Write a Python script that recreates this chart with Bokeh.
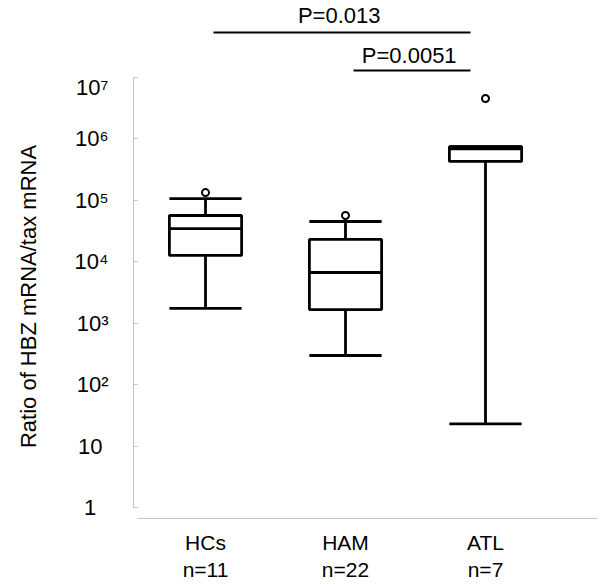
from bokeh.plotting import figure
from bokeh.layouts import column
from bokeh.models import Range1d, FixedTicker, CustomJSTickFormatter, ColumnDataSource
from bokeh.core.properties import value
from bokeh.embed import file_html
from bokeh.resources import INLINE

# ---- data ----
groups = ["HCs", "HAM", "ATL"]
n_counts = [11, 22, 7]
whisker_low = [1.74e3, 2.98e2, 2.3e1]
q1 = [1.27e4, 1.67e3, 4.3e5]
median = [3.48e4, 6.69e3, 6.9e5]
q3 = [5.67e4, 2.31e4, 7.5e5]
whisker_high = [1.07e5, 4.53e4, 7.5e5]
outlier_group = ["HCs", "HAM", "ATL"]
outlier_value = [1.34e5, 5.67e4, 4.55e6]
comparisons = [("HCs", "ATL", "P=0.013"), ("HAM", "ATL", "P=0.0051")]
y_ticks = [1, 10, 1e2, 1e3, 1e4, 1e5, 1e6, 1e7]

FONT = "Liberation Sans"
W = 600
LEFT = 133
RIGHT = 3
TOP_H = 74
BOT_H = 510
BOX_W = 0.516
AXIS_GRAY = "#c4c4c4"

pos = {g: i + 1 for i, g in enumerate(groups)}
xs = [pos[g] for g in groups]
x_range = Range1d(0.4857, 3.8)

# ---- main figure ----
p = figure(width=W, height=BOT_H, x_range=x_range,
           y_range=Range1d(10 ** -0.179, 10 ** 7.049), y_axis_type="log",
           output_backend="svg", toolbar_location=None,
           min_border_left=LEFT, min_border_right=RIGHT, min_border_top=0,
           min_border_bottom=66)
p.outline_line_color = None
p.grid.visible = False
p.background_fill_color = "white"

src = ColumnDataSource(dict(x=xs, lo=whisker_low, q1=q1, med=median, q3=q3, hi=whisker_high,
                            xl=[x - BOX_W / 2 for x in xs], xr=[x + BOX_W / 2 for x in xs]))
LW = 2.8
p.segment(x0="x", y0="q3", x1="x", y1="hi", source=src, line_color="black", line_width=LW)
p.segment(x0="x", y0="q1", x1="x", y1="lo", source=src, line_color="black", line_width=LW)
p.segment(x0="xl", y0="hi", x1="xr", y1="hi", source=src, line_color="black", line_width=LW)
p.segment(x0="xl", y0="lo", x1="xr", y1="lo", source=src, line_color="black", line_width=LW)
p.vbar(x="x", width=BOX_W, top="q3", bottom="q1", source=src,
       fill_color="white", line_color="black", line_width=LW)
p.segment(x0="xl", y0="med", x1="xr", y1="med", source=src, line_color="black", line_width=LW)
p.scatter(x=[pos[g] for g in outlier_group], y=outlier_value, marker="circle", size=7,
          fill_color="white", line_color="black", line_width=2)

# y axis
yax = p.yaxis[0]
yax.ticker = FixedTicker(ticks=y_ticks, minor_ticks=[])
yax.bounds = (1, 1e7)
yax.formatter = CustomJSTickFormatter(code="""
const e = Math.round(Math.log10(tick));
const sup = ['\u2070','\u00b9','\u00b2','\u00b3','\u2074','\u2075','\u2076','\u2077','\u2078','\u2079'];
if (e == 0) return '1\u00a0\u00a0';
if (e == 1) return '10\u00a0';
return '10' + sup[e];
""")
yax.axis_line_color = AXIS_GRAY
yax.major_tick_line_color = AXIS_GRAY
yax.major_tick_in = 4
yax.major_tick_out = 0
yax.minor_tick_line_color = None
yax.major_label_standoff = 25
yax.major_label_text_font = FONT
yax.major_label_text_font_size = "22px"
yax.major_label_text_color = "black"
yax.axis_label = "Ratio of HBZ mRNA/tax mRNA"
yax.axis_label_text_font = FONT
yax.axis_label_text_font_size = "22px"
yax.axis_label_text_font_style = "normal"
yax.axis_label_text_color = "black"
yax.axis_label_standoff = 31

# x axis
xax = p.xaxis[0]
xax.ticker = FixedTicker(ticks=xs, minor_ticks=[])
xax.bounds = (0.514, 3.8)
xax.formatter = CustomJSTickFormatter(args=dict(labels=[f"{g}\nn={n}" for g, n in zip(groups, n_counts)]),
                                      code="return labels[Math.round(tick) - 1];")
xax.axis_line_color = AXIS_GRAY
xax.major_tick_line_color = None
xax.minor_tick_line_color = None
xax.major_label_standoff = 6
xax.major_label_text_font = FONT
xax.major_label_text_font_size = "21px"
xax.major_label_text_color = "black"

# ---- significance annotations ----
top = figure(width=W, height=TOP_H, x_range=x_range, y_range=Range1d(TOP_H, 0),
             output_backend="svg", toolbar_location=None,
             min_border_left=LEFT, min_border_right=RIGHT, min_border_top=0, min_border_bottom=0)
top.axis.visible = False
top.grid.visible = False
top.outline_line_color = None

line_levels = [32, 70]
text_levels = [15, 55]
bx0 = [pos[a] + 0.057 for a, b, t in comparisons]
bx1 = [pos[b] - 0.107 for a, b, t in comparisons]
top.segment(x0=bx0, y0=line_levels, x1=bx1, y1=line_levels, line_color="black", line_width=2)
top.text(x=[(a + b) / 2 - 0.02 for a, b in zip(bx0, bx1)], y=text_levels,
         text=[t for a, b, t in comparisons], text_font=value(FONT), text_font_size="22px",
         text_align="center", text_baseline="middle", text_color="black")

layout = column(top, p, spacing=0)
open("out.html", "w").write(file_html(layout, INLINE))
